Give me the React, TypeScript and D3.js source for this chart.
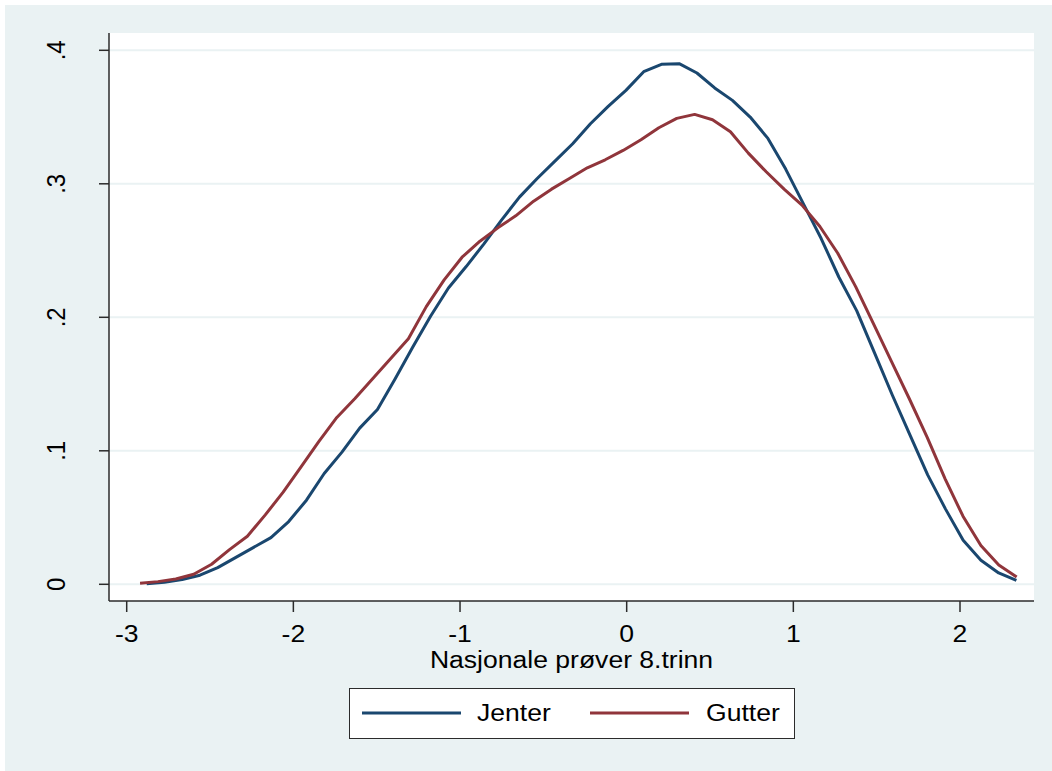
import React from "react";
import * as d3 from "d3";

const jenterX0 = -2.88;
const jenterX1 = 2.3385;
const jenterY = [
  0.0005, 0.0016, 0.0035, 0.0068, 0.0125, 0.020, 0.0275, 0.035, 0.047, 0.063,
  0.083, 0.099, 0.117, 0.131, 0.154, 0.178, 0.201, 0.222, 0.238, 0.255,
  0.273, 0.290, 0.304, 0.317, 0.330, 0.345, 0.358, 0.370, 0.384, 0.3895,
  0.390, 0.383, 0.3718, 0.3625, 0.350, 0.334, 0.311, 0.285, 0.259, 0.230,
  0.205, 0.1735, 0.142, 0.112, 0.082, 0.0565, 0.033, 0.018, 0.0085, 0.003,
];

const gutterX0 = -2.92;
const gutterX1 = 2.34;
const gutterY = [
  0.0007, 0.002, 0.004, 0.0075, 0.015, 0.026, 0.036, 0.052, 0.069, 0.088,
  0.107, 0.125, 0.139, 0.154, 0.169, 0.184, 0.208, 0.228, 0.245, 0.257,
  0.267, 0.276, 0.287, 0.296, 0.304, 0.312, 0.318, 0.325, 0.333, 0.342,
  0.349, 0.352, 0.348, 0.339, 0.323, 0.309, 0.296, 0.284, 0.268, 0.248,
  0.223, 0.195, 0.167, 0.139, 0.110, 0.079, 0.051, 0.029, 0.0145, 0.0055,
];

const xTicks = [-3, -2, -1, 0, 1, 2];
const yTicks = [0, 0.1, 0.2, 0.3, 0.4];
const yTickLabels = ["0", ".1", ".2", ".3", ".4"];
const xTitle = "Nasjonale prøver 8.trinn";
const seriesNames = ["Jenter", "Gutter"];
const seriesColors = ["#1a476f", "#90353b"];

function toPoints(x0: number, x1: number, ys: number[]) {
  const step = (x1 - x0) / (ys.length - 1);
  return ys.map((y, i) => [x0 + i * step, y] as [number, number]);
}

const SX = 1.13;

function HText(props: { x: number; y: number; anchor: string; children: React.ReactNode }) {
  return (
    <text
      transform={`translate(${props.x},${props.y}) scale(${SX},1)`}
      textAnchor={props.anchor}
      fontSize={23.5}
      fill="#000"
    >
      {props.children}
    </text>
  );
}

export default function App() {
  const W = 1052;
  const H = 771;
  const left = 109;
  const right = 1034;
  const top = 33;
  const bottom = 601;

  const x = d3.scaleLinear().domain([-3, 2]).range([126.7, 960]);
  const y = d3.scaleLinear().domain([0, 0.4]).range([584.3, 50.3]);

  const line = d3
    .line<[number, number]>()
    .x((d) => x(d[0]))
    .y((d) => y(d[1]));

  const series = [
    toPoints(jenterX0, jenterX1, jenterY),
    toPoints(gutterX0, gutterX1, gutterY),
  ];

  const font = "Liberation Sans, Arial, sans-serif";
  const axisColor = "#2b2b2b";

  return (
    <svg
      width={W}
      height={H}
      style={{ position: "absolute", left: 0, top: 0 }}
      fontFamily={font}
    >
      <rect x={0} y={0} width={W} height={H} fill="#ffffff" />
      <rect x={5} y={5} width={W - 5} height={H - 5} fill="#eaf2f3" />
      <rect x={left} y={top} width={right - left} height={bottom - top} fill="#ffffff" />
      {yTicks.map((t) => (
        <line
          key={"g" + t}
          x1={left}
          x2={right}
          y1={y(t)}
          y2={y(t)}
          stroke="#eaf2f3"
          strokeWidth={2}
        />
      ))}
      {series.map((pts, i) => (
        <path
          key={i}
          d={line(pts) || ""}
          fill="none"
          stroke={seriesColors[i]}
          strokeWidth={3}
          strokeLinejoin="round"
        />
      ))}
      <line x1={left} x2={left} y1={top} y2={bottom} stroke={axisColor} strokeWidth={1.5} />
      <line x1={left} x2={right} y1={bottom} y2={bottom} stroke={axisColor} strokeWidth={1.5} />
      {yTicks.map((t, i) => (
        <g key={"yt" + t}>
          <line x1={left - 10} x2={left} y1={y(t)} y2={y(t)} stroke={axisColor} strokeWidth={1.5} />
          <text
            transform={`translate(65,${y(t)}) rotate(-90) scale(1,1.1)`}
            textAnchor="middle"
            fontSize={24}
            fill="#000"
          >
            {yTickLabels[i]}
          </text>
        </g>
      ))}
      {xTicks.map((t) => (
        <g key={"xt" + t}>
          <line x1={x(t)} x2={x(t)} y1={bottom} y2={bottom + 11} stroke={axisColor} strokeWidth={1.5} />
          <HText x={x(t)} y={642} anchor="middle">
            {t}
          </HText>
        </g>
      ))}
      <HText x={(left + right) / 2} y={668} anchor="middle">
        {xTitle}
      </HText>
      <rect x={349.5} y={688.5} width={445} height={50} fill="#ffffff" stroke={axisColor} strokeWidth={1} />
      <line x1={362} x2={461} y1={713} y2={713} stroke={seriesColors[0]} strokeWidth={3} />
      <HText x={477} y={721} anchor="start">
        {seriesNames[0]}
      </HText>
      <line x1={590} x2={689} y1={713} y2={713} stroke={seriesColors[1]} strokeWidth={3} />
      <HText x={706} y={721} anchor="start">
        {seriesNames[1]}
      </HText>
    </svg>
  );
}
